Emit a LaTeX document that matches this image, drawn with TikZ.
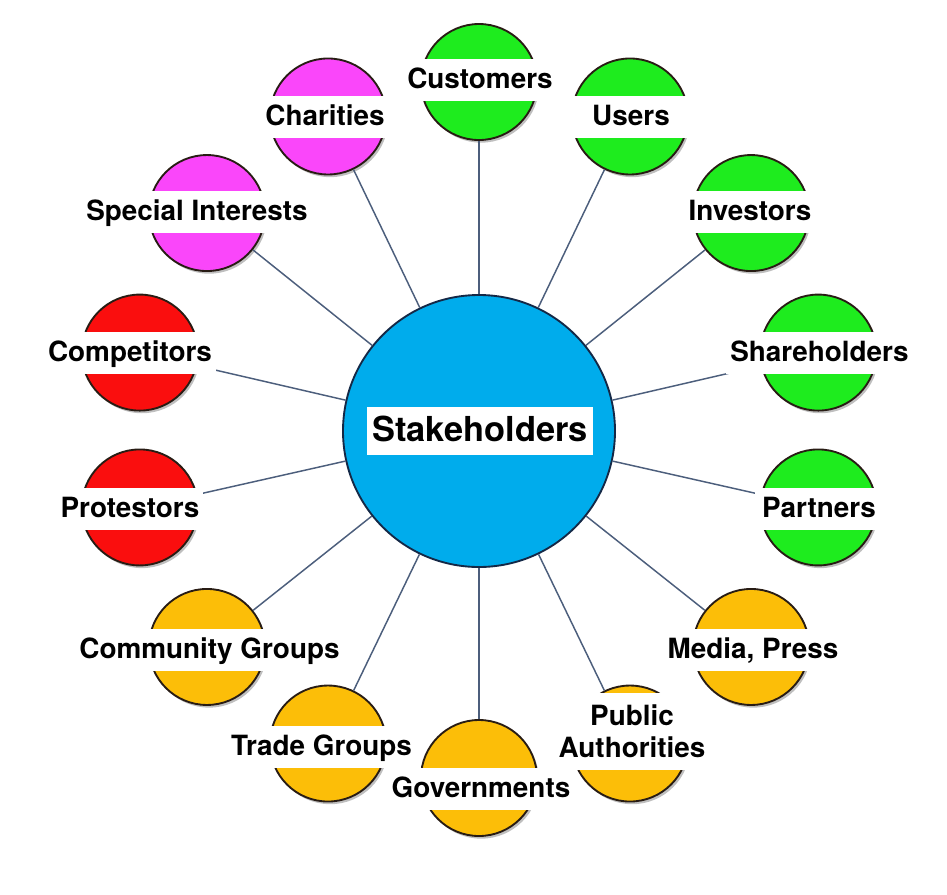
\documentclass[tikz,border=0pt]{standalone}
\usepackage{fontspec}
\setmainfont{TeX Gyre Heros}
\usetikzlibrary{shadows}
\definecolor{cgreen}{RGB}{30,236,30}
\definecolor{corange}{RGB}{252,190,8}
\definecolor{cred}{RGB}{250,14,14}
\definecolor{cmag}{RGB}{250,70,250}
\definecolor{cblue}{RGB}{0,172,236}
\definecolor{edgec}{RGB}{40,28,20}
\definecolor{hubedge}{RGB}{20,40,70}
\definecolor{linec}{RGB}{76,94,124}
\begin{document}
\begin{tikzpicture}[x=0.75pt,y=-0.75pt,
  outer/.style={circle,draw=edgec,line width=1.4pt,minimum size=87pt,inner sep=0pt,
    drop shadow={shadow xshift=1.6pt,shadow yshift=-2pt,opacity=0.25,fill=black}},
  hub/.style={circle,draw=hubedge,line width=1.4pt,fill=cblue,minimum size=204pt,inner sep=0pt},
  tag/.style={fill=white,font=\fontsize{20.9}{24}\selectfont\bfseries,inner xsep=3pt,
    inner ysep=7.6pt,text height=14.8pt,text depth=1.5pt,minimum width=96pt},
  tag2/.style={fill=white,font=\fontsize{20.9}{24}\selectfont\bfseries,inner xsep=3pt,
    inner ysep=9pt,align=center,minimum width=96pt},
  hubtag/.style={fill=white,font=\fontsize{25.8}{30}\selectfont\bfseries,inner xsep=3.75pt,
    inner ysep=7.85pt,text height=18.3pt,text depth=2pt},
  link/.style={draw=linec,line width=1.1pt}]
\fill[white] (0,0) rectangle (947,894);
\useasboundingbox (0,0) rectangle (947,894);

\node[hub] (hub) at (479,431) {};
\foreach \i/\c in {0/cgreen,1/cgreen,2/cgreen,3/cgreen,4/cgreen,5/corange,6/corange,7/corange,8/corange,9/corange,10/cred,11/cred,12/cmag,13/cmag}
  \node[outer,fill=\c] (n\i) at ({479+348*cos(90-\i*360/14)},{430-348*sin(90-\i*360/14)}) {};

\foreach \i in {0,...,13}
  \draw[link] (hub) -- (n\i);

\node[hubtag] (lhub) at (480,431) {Stakeholders};
\node[tag] (l0) at (480,79.5) {Customers};
\node[tag] (l1) at (631,116.5) {Users};
\node[tag] (l2) at (750,211.5) {Investors};
\node[tag] (l3) at (819.5,353) {Shareholders};
\node[tag] (l4) at (819,508.5) {Partners};
\node[tag] (l5) at (753,649.5) {Media, Press};
\node[tag2] (l6) at (632,731.5) {Public\\Authorities};
\node[tag] (l7) at (481,788.5) {Governments};
\node[tag] (l8) at (321.5,746.5) {Trade Groups};
\node[tag] (l9) at (209.5,649.5) {Community Groups};
\node[tag] (l10) at (130,509) {Protestors};
\node[tag] (l11) at (130,353) {Competitors};
\node[tag] (l12) at (197,211.5) {Special Interests};
\node[tag] (l13) at (325,116.5) {Charities};
\end{tikzpicture}
\end{document}
